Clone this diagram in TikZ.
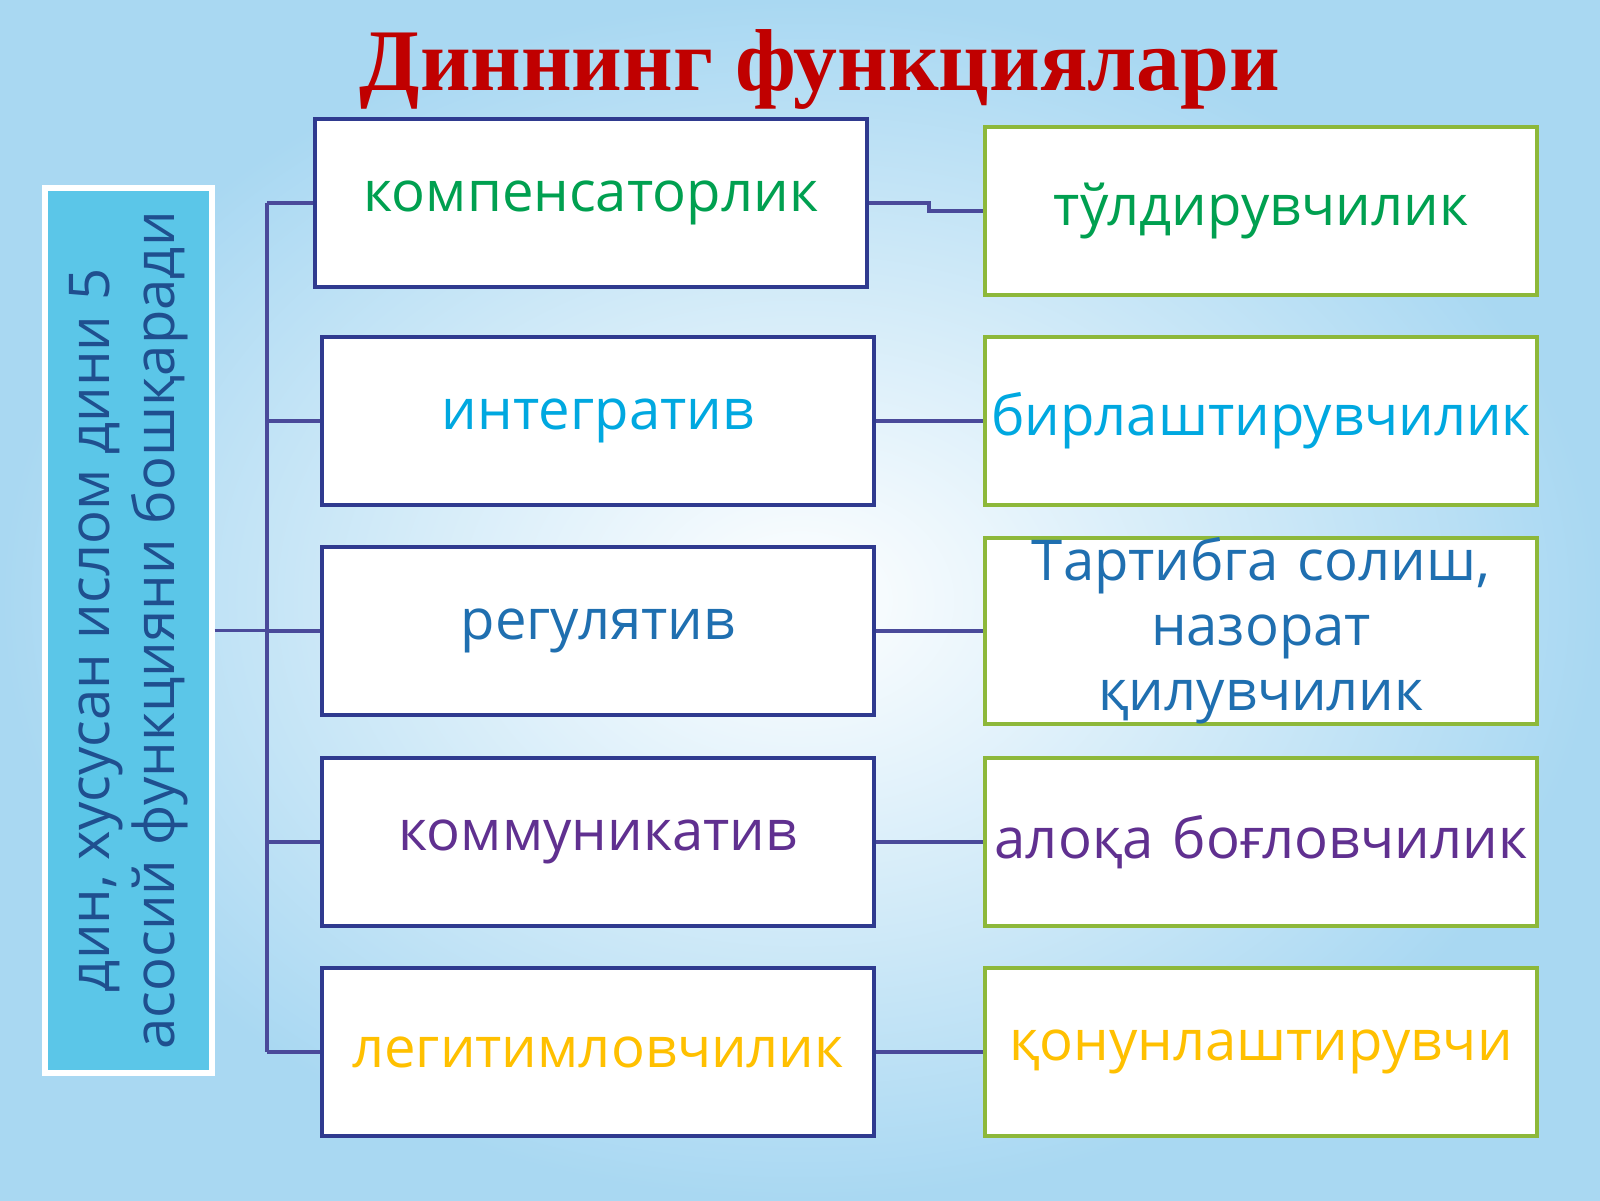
\documentclass[tikz,border=0pt]{standalone}
\usepackage{fontspec}
\setmainfont{Open Sans}
\newfontfamily\titlefont{Liberation Serif}
\definecolor{bgblue}{HTML}{A9D8F2}
\definecolor{linkblue}{HTML}{4A4A9A}
\definecolor{midframe}{HTML}{2F3A8F}
\definecolor{rightframe}{HTML}{8DB83A}
\definecolor{sidefill}{HTML}{5BC6E8}
\definecolor{sidetext}{HTML}{1F4F8F}
\definecolor{titlered}{HTML}{C00000}
\definecolor{cgreen}{HTML}{00A050}
\definecolor{ccyan}{HTML}{00A8E0}
\definecolor{cblue}{HTML}{1F6FB0}
\definecolor{cpurple}{HTML}{603090}
\definecolor{cyellow}{HTML}{FFC000}
\tikzset{
  midbox/.style={draw=midframe, line width=1.2pt, fill=white, minimum width=5.52cm, minimum height=1.68cm, text width=5.4cm, align=center, inner sep=0pt, font=\fontsize{16}{19}\selectfont},
  rightbox/.style={draw=rightframe, line width=1.2pt, fill=white, minimum width=5.52cm, minimum height=1.68cm, text width=5.46cm, inner sep=0pt, align=center, font=\fontsize{16}{18.5}\selectfont},
  link/.style={draw=linkblue, line width=1pt}
}
\begin{document}
\begin{tikzpicture}
\useasboundingbox (0,0) rectangle (16,12);
\shade[inner color=white, outer color=bgblue] (0,0) rectangle (16,12);
% title
\node[text=titlered, font=\titlefont\bfseries\fontsize{25}{28}\selectfont] (title) at (8.2,11.3) {Диннинг функциялари};
% side box
\node[draw=white, line width=1.5pt, fill=sidefill, minimum width=1.67cm, minimum height=8.85cm, inner sep=0pt] (side) at (1.285,5.695) {};
\node[rotate=90, align=center, text=sidetext, font=\fontsize{16}{18.5}\selectfont] (sidetxt) at (side.center) {дин, хусусан ислом дини 5\\асосий функцияни бошқаради};
% middle column
\node[midbox, text=cgreen] (m1) at (5.91,9.97) {компенсаторлик};
\node[midbox, text=ccyan] (m2) at (5.98,7.79) {интегратив};
\node[midbox, text=cblue] (m3) at (5.98,5.69) {регулятив};
\node[midbox, text=cpurple] (m4) at (5.98,3.58) {коммуникатив};
\node[midbox, text=cyellow] (m5) at (5.98,1.48) {легитимловчилик};
% right column
\node[rightbox, text=cgreen] (r1) at (12.61,9.89) {тўлдирувчилик};
\node[rightbox, text=ccyan] (r2) at (12.61,7.79) {бирлаштирувчилик};
\node[rightbox, text=cblue] (r3) at (12.61,5.69) {Тартибга солиш,\\назорат қилувчилик};
\node[rightbox, text=cpurple] (r4) at (12.61,3.58) {алоқа боғловчилик};
\node[rightbox, text=cyellow] (r5) at (12.61,1.48) {қонунлаштирувчи};
% connectors
\coordinate (spinetop) at (2.67,9.97);
\coordinate (spinebot) at (2.67,1.48);
\draw[link] (spinetop) -- (spinebot);
\draw[link] (side.east) -- (side.east -| spinetop);
\foreach \i in {1,...,5}
  \draw[link] (m\i.west) -- (m\i.west -| spinetop);
\draw[link] (m1.east) -- ++(0.6,0) |- (r1.west);
\foreach \i in {2,...,5}
  \draw[link] (m\i.east) -- (r\i.west);
\end{tikzpicture}
\end{document}
